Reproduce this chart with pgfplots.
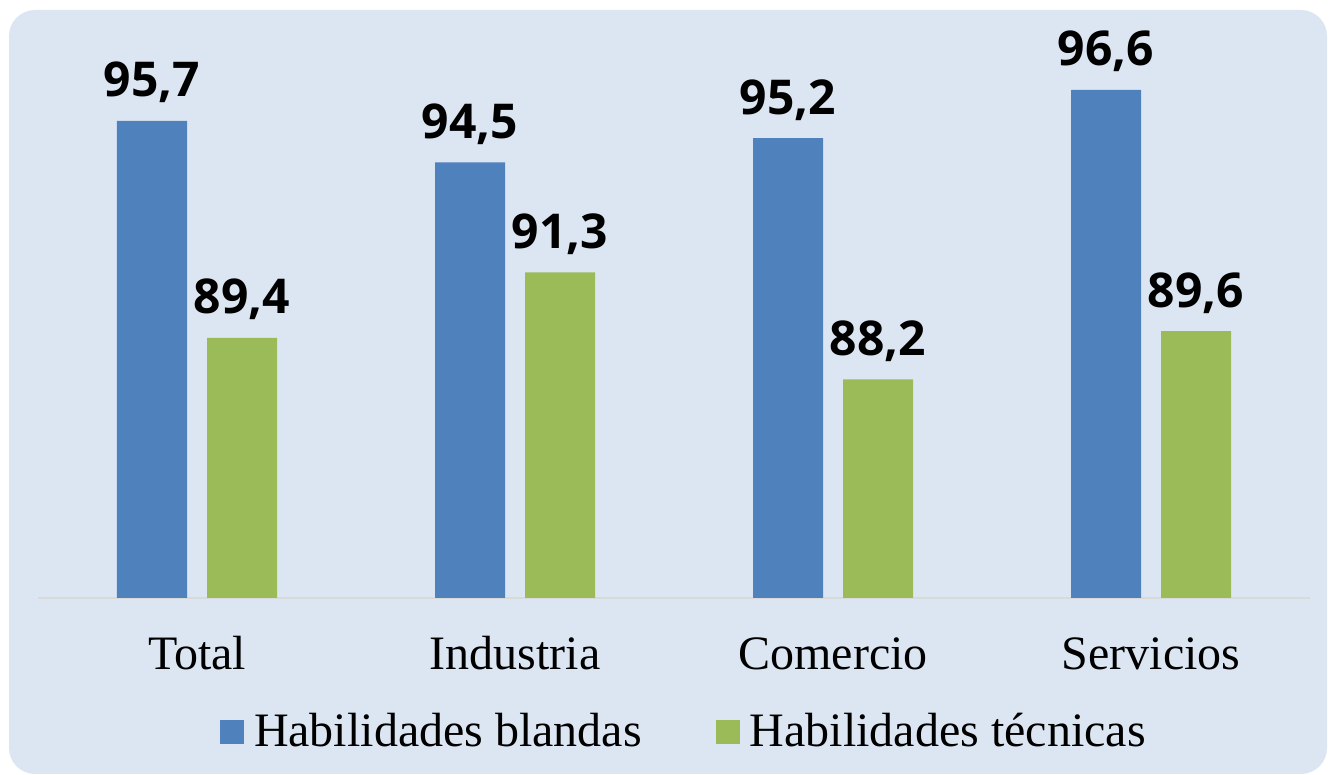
\documentclass[border=0pt]{standalone}
\usepackage{pgfplots}
\pgfplotsset{compat=1.18}
\usepackage{fontspec}
\setmainfont{Liberation Serif}
\newfontfamily\labfont{Open Sans}
\definecolor{cblue}{HTML}{4F81BD}
\definecolor{cgreen}{HTML}{9BBB59}
\definecolor{bg}{HTML}{DCE6F2}
\definecolor{axl}{HTML}{D9D9D9}
\begin{document}
\begin{tikzpicture}
\useasboundingbox (0,0) rectangle (665pt,387.5pt);
\fill[bg, rounded corners=13pt] (4.5pt,0.5pt) rectangle (663.5pt,382.5pt);
\begin{axis}[
  at={(19pt,88.5pt)}, anchor=south west,
  scale only axis, width=636pt, height=289pt,
  xmin=-0.5, xmax=3.5, ymin=81.85, ymax=98.63,
  ybar=10pt, bar width=35pt,
  axis x line*=bottom, hide y axis,
  x axis line style={axl, line width=1pt, -},
  xtick={0,1,2,3}, xticklabels={Total,Industria,Comercio,Servicios},
  major tick length=0pt,
  xticklabel style={font=\fontsize{24}{28}\selectfont, anchor=base, yshift=-36pt},
  ytick=\empty,
  nodes near coords={\pgfmathprintnumber[assume math mode=true,use comma,fixed,fixed zerofill,precision=1]{\pgfplotspointmeta}},
  every node near coord/.append style={font=\labfont\bfseries\fontsize{24}{28}\selectfont, anchor=base, yshift=12pt, inner sep=0pt, text=black},
  legend columns=2,
  legend style={at={(0.1431,-0.1993)}, anchor=north west, draw=none, fill=none, inner sep=0pt, outer sep=0pt,
    font=\fontsize{24}{28}\selectfont,
    nodes={inner sep=0pt, anchor=base west},
    /tikz/every odd column/.append style={column sep=5pt},
    /tikz/every even column/.append style={column sep=37pt}},
  legend image code/.code={\fill[#1, draw=none] (0pt,1.5pt) rectangle (12pt,13.5pt);},
]
\addplot[fill=cblue, draw=none] coordinates {(0,95.7) (1,94.5) (2,95.2) (3,96.6)};
\addplot[fill=cgreen, draw=none] coordinates {(0,89.4) (1,91.3) (2,88.2) (3,89.6)};
\legend{Habilidades blandas, Habilidades técnicas}
\end{axis}
\end{tikzpicture}
\end{document}
